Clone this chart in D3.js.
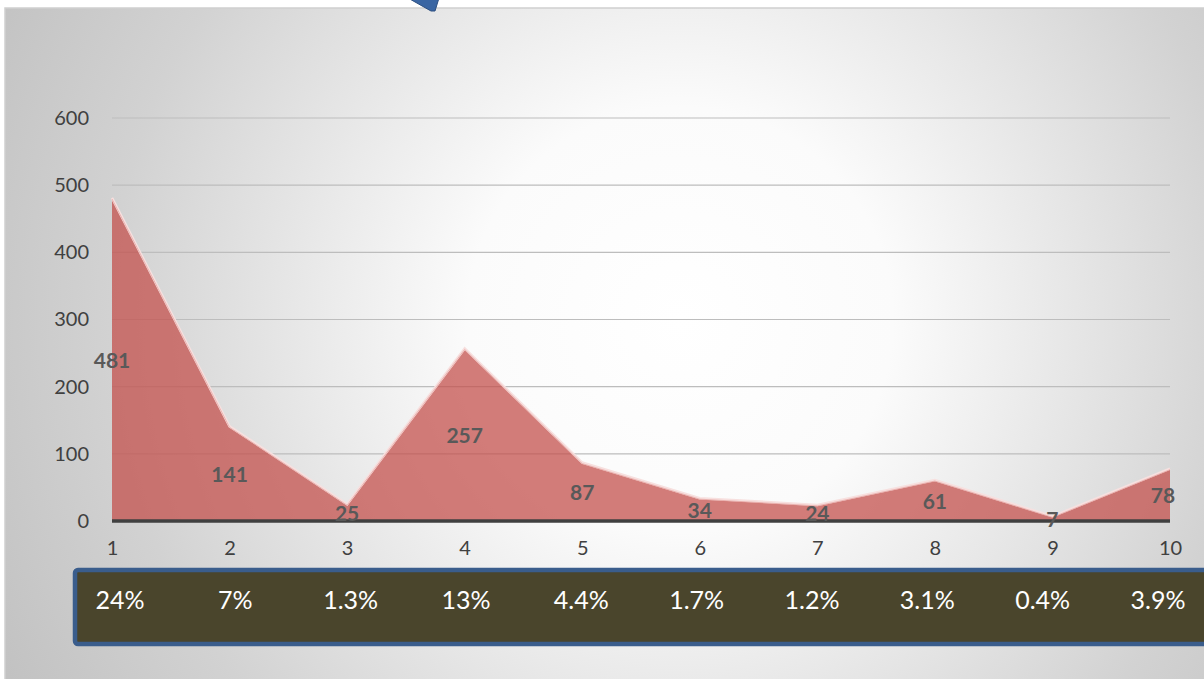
<!DOCTYPE html>
<html><head><meta charset="utf-8">
<script src="https://cdn.jsdelivr.net/npm/d3@7"></script>
<style>html,body{margin:0;padding:0;background:#fff;overflow:hidden}</style>
</head><body>
<svg id="c" width="1204" height="679"></svg>
<script>
const categories = [1,2,3,4,5,6,7,8,9,10];
const values = [481,141,25,257,87,34,24,61,7,78];
const percents = ["24%","7%","1.3%","13%","4.4%","1.7%","1.2%","3.1%","0.4%","3.9%"];
const yTicks = [0,100,200,300,400,500,600];

const svg = d3.select("#c");
const font = "Lato, 'Liberation Sans', sans-serif";
const defs = svg.append("defs");
const rg = defs.append("radialGradient").attr("id","bg").attr("gradientUnits","userSpaceOnUse")
  .attr("cx",680).attr("cy",320).attr("r",760);
rg.append("stop").attr("offset","0").attr("stop-color","#ffffff");
rg.append("stop").attr("offset","0.28").attr("stop-color","#fbfbfb");
rg.append("stop").attr("offset","0.75").attr("stop-color","#d2d2d2");
rg.append("stop").attr("offset","1").attr("stop-color","#c2c2c2");

svg.append("rect").attr("x",5).attr("y",8).attr("width",1210).attr("height",680)
  .attr("fill","url(#bg)").attr("stroke","#cfcfcf").attr("stroke-width",1.5);

// blue corner shape at top
svg.append("polygon").attr("points","408,-2 439,-2 435,11 431,11")
  .attr("fill","#3a66a3").attr("stroke","#2c4f80").attr("stroke-width",1);

const x = d3.scaleLinear().domain([1,10]).range([112,1170]);
const y = d3.scaleLinear().domain([0,600]).range([521,118]);

// gridlines
svg.append("g").selectAll("line").data(yTicks.filter(d=>d>0)).join("line")
  .attr("x1",112).attr("x2",1170).attr("y1",d=>y(d)).attr("y2",d=>y(d))
  .attr("stroke","#bdbdbd").attr("stroke-width",1.2);

// y axis labels
const yAxis = d3.axisLeft(y).tickValues(yTicks).tickSize(0).tickPadding(0);
const ga = svg.append("g").attr("transform","translate(89,0)").call(yAxis);
ga.select(".domain").remove();
ga.selectAll("text").attr("font-family",font).attr("font-size",20).attr("fill","#404040");

// area
const area = d3.area().x((d,i)=>x(categories[i])).y0(y(0)).y1(d=>y(d));
svg.append("path").datum(values).attr("d",area)
  .attr("fill","#c44f4b").attr("fill-opacity",0.74);
const line = d3.line().x((d,i)=>x(categories[i])).y(d=>y(d));
svg.append("path").datum(values).attr("d",line)
  .attr("fill","none").attr("stroke","#f7e0df").attr("stroke-width",2.5);
svg.append("path").datum(values).attr("d",line)
  .attr("fill","none").attr("stroke","#e8a9a7").attr("stroke-width",0.8)
  .attr("transform","translate(0,1)");

// x axis line
svg.append("line").attr("x1",112).attr("x2",1170).attr("y1",y(0)).attr("y2",y(0))
  .attr("stroke","#404040").attr("stroke-width",3.5);

// x axis labels
const xAxis = d3.axisBottom(x).tickValues(categories).tickSize(0).tickPadding(0).tickFormat(d3.format("d"));
const gx = svg.append("g").attr("transform","translate(0,541)").call(xAxis);
gx.select(".domain").remove();
gx.selectAll("text").attr("font-family",font).attr("font-size",20).attr("fill","#404040");

// data labels
svg.append("g").selectAll("text").data(values).join("text")
  .attr("x",(d,i)=>Math.min(x(categories[i]),1163))
  .attr("y",d=>(y(0)+y(d))/2 + 1)
  .attr("dy","0.35em").attr("text-anchor","middle")
  .attr("font-family",font).attr("font-weight","bold").attr("font-size",21)
  .attr("fill","#595959").text(d=>d);

// percentage box
svg.append("rect").attr("x",75).attr("y",570).attr("width",1150).attr("height",74).attr("rx",3)
  .attr("fill","#4a452c").attr("stroke","#3a5d8c").attr("stroke-width",4.5);
const px = d3.scaleLinear().domain([1,10]).range([120,1158]);
svg.append("g").selectAll("text").data(percents).join("text")
  .attr("x",(d,i)=>px(categories[i])).attr("y",600).attr("dy","0.35em")
  .attr("text-anchor","middle").attr("font-family",font).attr("font-size",25)
  .attr("fill","#ffffff").text(d=>d);
</script>
</body></html>
